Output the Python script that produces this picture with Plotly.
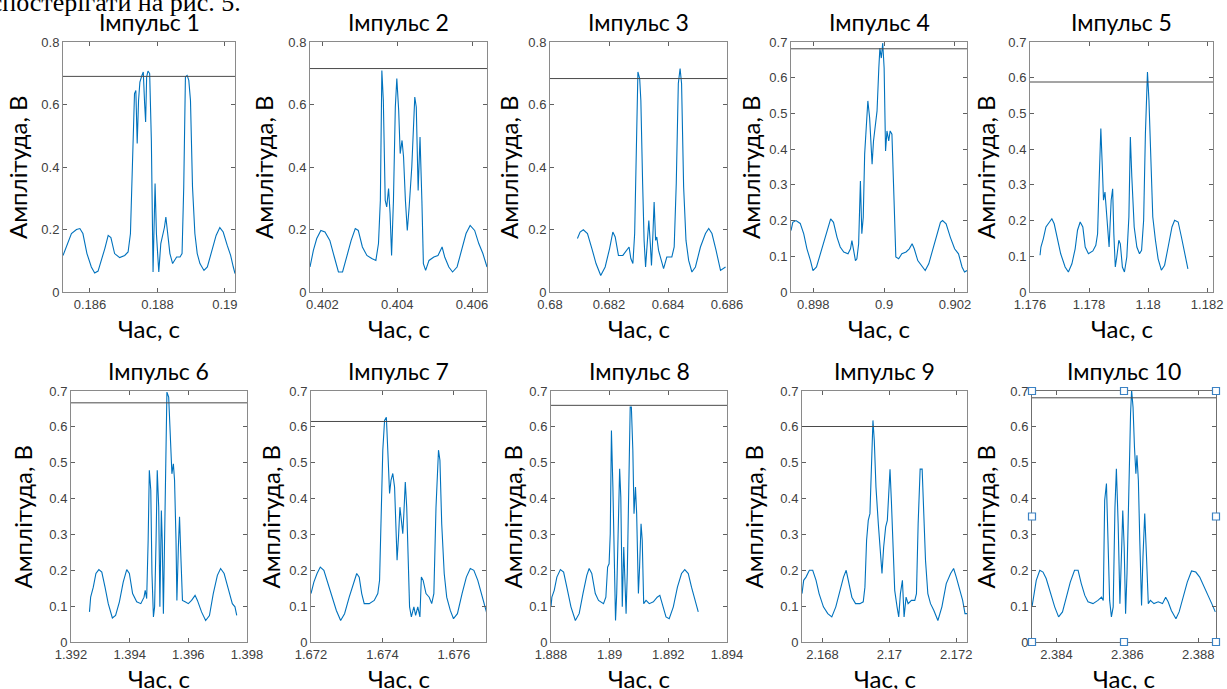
import plotly.graph_objects as go

W, H = 1227, 689

# ---------------- data ----------------
t1 = [0.18520, 0.18530, 0.18545, 0.18560, 0.18570, 0.18579, 0.18591, 0.18604, 0.18614, 0.18624,
      0.18634, 0.18644, 0.18654, 0.18662, 0.18673, 0.18688, 0.18703, 0.18713, 0.18720, 0.18726,
      0.18732, 0.18736, 0.18740, 0.18744, 0.18748, 0.18754, 0.18758, 0.18762, 0.18765, 0.18768,
      0.18772, 0.18777, 0.18782, 0.18787, 0.18793, 0.18797, 0.18804, 0.18810, 0.18815, 0.18821,
      0.18825, 0.18830, 0.18837, 0.18845, 0.18857, 0.18867, 0.18873, 0.18878, 0.18883, 0.18888,
      0.18893, 0.18898, 0.18904, 0.18911, 0.18918, 0.18926, 0.18938, 0.18948, 0.18961, 0.18974,
      0.18985, 0.18995, 0.19007, 0.19017, 0.19025, 0.19030]
a1 = [0.117, 0.144, 0.187, 0.200, 0.203, 0.187, 0.123, 0.080, 0.061, 0.067,
      0.101, 0.139, 0.181, 0.174, 0.123, 0.110, 0.117, 0.128, 0.187, 0.379,
      0.635, 0.645, 0.475, 0.613, 0.672, 0.693, 0.704, 0.603, 0.544, 0.688,
      0.707, 0.699, 0.485, 0.064, 0.347, 0.187, 0.064, 0.155, 0.176, 0.208,
      0.240, 0.187, 0.123, 0.091, 0.112, 0.112, 0.123, 0.336, 0.688, 0.693,
      0.677, 0.613, 0.336, 0.187, 0.123, 0.091, 0.069, 0.080, 0.133, 0.181,
      0.206, 0.192, 0.149, 0.117, 0.080, 0.059]

t2 = [0.40167, 0.40176, 0.40185, 0.40196, 0.40207, 0.40220, 0.40232, 0.40243, 0.40254, 0.40265,
      0.40277, 0.40288, 0.40296, 0.40307, 0.40319, 0.40332, 0.40343, 0.40350, 0.40355, 0.40359,
      0.40363, 0.40368, 0.40372, 0.40377, 0.40381, 0.40385, 0.40390, 0.40395, 0.40399, 0.40404,
      0.40408, 0.40413, 0.40417, 0.40422, 0.40427, 0.40432, 0.40439, 0.40447, 0.40451, 0.40456,
      0.40461, 0.40466, 0.40470, 0.40476, 0.40485, 0.40498, 0.40509, 0.40520, 0.40527, 0.40538,
      0.40548, 0.40560, 0.40571, 0.40584, 0.40595, 0.40607, 0.40618, 0.40629, 0.40640]
a2 = [0.080, 0.133, 0.171, 0.197, 0.192, 0.165, 0.112, 0.064, 0.064, 0.112,
      0.165, 0.203, 0.197, 0.144, 0.117, 0.107, 0.101, 0.155, 0.293, 0.709,
      0.613, 0.293, 0.272, 0.331, 0.251, 0.117, 0.293, 0.592, 0.683, 0.581,
      0.443, 0.485, 0.432, 0.293, 0.197, 0.272, 0.400, 0.624, 0.592, 0.325,
      0.496, 0.293, 0.091, 0.069, 0.101, 0.112, 0.117, 0.144, 0.112, 0.080,
      0.064, 0.080, 0.133, 0.187, 0.213, 0.197, 0.155, 0.123, 0.080]

t3 = [0.68093, 0.68102, 0.68113, 0.68127, 0.68142, 0.68156, 0.68172, 0.68187, 0.68202, 0.68213,
      0.68221, 0.68232, 0.68247, 0.68260, 0.68268, 0.68274, 0.68281, 0.68287, 0.68292, 0.68298,
      0.68304, 0.68308, 0.68314, 0.68319, 0.68324, 0.68330, 0.68335, 0.68340, 0.68344, 0.68349,
      0.68353, 0.68358, 0.68362, 0.68368, 0.68376, 0.68385, 0.68396, 0.68413, 0.68421, 0.68428,
      0.68435, 0.68441, 0.68446, 0.68453, 0.68461, 0.68470, 0.68481, 0.68493, 0.68510, 0.68527,
      0.68538, 0.68549, 0.68563, 0.68578, 0.68595]
a3 = [0.171, 0.192, 0.199, 0.187, 0.139, 0.091, 0.053, 0.080, 0.139, 0.192,
      0.176, 0.117, 0.117, 0.133, 0.144, 0.107, 0.091, 0.187, 0.453, 0.704,
      0.683, 0.613, 0.347, 0.165, 0.080, 0.165, 0.229, 0.155, 0.085, 0.187,
      0.288, 0.165, 0.176, 0.133, 0.101, 0.075, 0.112, 0.112, 0.144, 0.347,
      0.667, 0.715, 0.667, 0.336, 0.165, 0.101, 0.064, 0.080, 0.144, 0.187,
      0.203, 0.187, 0.133, 0.069, 0.080]

t4 = [0.89737, 0.89742, 0.89751, 0.89763, 0.89773, 0.89782, 0.89792, 0.89799, 0.89809, 0.89820,
      0.89832, 0.89843, 0.89849, 0.89857, 0.89867, 0.89876, 0.89886, 0.89898, 0.89905, 0.89909,
      0.89914, 0.89919, 0.89923, 0.89928, 0.89933, 0.89937, 0.89941, 0.89945, 0.89950, 0.89954,
      0.89959, 0.89963, 0.89966, 0.89970, 0.89975, 0.89980, 0.89985, 0.89988, 0.89992, 0.89996,
      0.90000, 0.90004, 0.90008, 0.90013, 0.90017, 0.90022, 0.90028, 0.90033, 0.90041, 0.90050,
      0.90062, 0.90071, 0.90079, 0.90085, 0.90095, 0.90107, 0.90116, 0.90126, 0.90137, 0.90149,
      0.90159, 0.90165, 0.90175, 0.90187, 0.90199, 0.90210, 0.90220, 0.90227, 0.90234]
a4 = [0.172, 0.195, 0.200, 0.192, 0.163, 0.121, 0.088, 0.060, 0.070, 0.107,
      0.153, 0.191, 0.205, 0.195, 0.153, 0.126, 0.112, 0.107, 0.121, 0.144,
      0.121, 0.088, 0.093, 0.135, 0.311, 0.163, 0.209, 0.386, 0.469, 0.535,
      0.488, 0.414, 0.358, 0.423, 0.469, 0.507, 0.627, 0.683, 0.655, 0.697,
      0.627, 0.395, 0.451, 0.423, 0.451, 0.442, 0.256, 0.098, 0.093, 0.107,
      0.112, 0.121, 0.135, 0.121, 0.088, 0.070, 0.060, 0.079, 0.116, 0.163,
      0.195, 0.200, 0.191, 0.153, 0.121, 0.107, 0.070, 0.056, 0.060]

t5 = [1.17634, 1.17637, 1.17645, 1.17654, 1.17666, 1.17674, 1.17682, 1.17693, 1.17704, 1.17719,
      1.17730, 1.17742, 1.17753, 1.17761, 1.17770, 1.17779, 1.17787, 1.17798, 1.17813, 1.17823,
      1.17829, 1.17834, 1.17840, 1.17845, 1.17849, 1.17854, 1.17858, 1.17863, 1.17868, 1.17875,
      1.17880, 1.17884, 1.17889, 1.17894, 1.17901, 1.17906, 1.17913, 1.17920, 1.17928, 1.17935,
      1.17940, 1.17945, 1.17953, 1.17962, 1.17971, 1.17978, 1.17985, 1.17991, 1.17998, 1.18003,
      1.18009, 1.18016, 1.18025, 1.18034, 1.18045, 1.18056, 1.18068, 1.18081, 1.18090, 1.18102,
      1.18113, 1.18124, 1.18135]
a5 = [0.103, 0.126, 0.149, 0.182, 0.196, 0.205, 0.191, 0.145, 0.107, 0.070,
      0.056, 0.079, 0.121, 0.173, 0.196, 0.182, 0.126, 0.107, 0.115, 0.131,
      0.163, 0.303, 0.458, 0.350, 0.257, 0.280, 0.238, 0.163, 0.126, 0.257,
      0.289, 0.163, 0.070, 0.098, 0.145, 0.135, 0.070, 0.056, 0.098, 0.210,
      0.434, 0.322, 0.182, 0.126, 0.107, 0.117, 0.201, 0.444, 0.616, 0.537,
      0.350, 0.210, 0.145, 0.093, 0.061, 0.075, 0.126, 0.182, 0.201, 0.196,
      0.154, 0.107, 0.065]

t6 = [1.39263, 1.39267, 1.39276, 1.39285, 1.39295, 1.39305, 1.39316, 1.39327, 1.39341, 1.39352,
      1.39365, 1.39378, 1.39390, 1.39399, 1.39410, 1.39424, 1.39438, 1.39449, 1.39453, 1.39458,
      1.39463, 1.39467, 1.39472, 1.39476, 1.39481, 1.39485, 1.39490, 1.39494, 1.39499, 1.39503,
      1.39508, 1.39511, 1.39515, 1.39519, 1.39523, 1.39527, 1.39533, 1.39539, 1.39544, 1.39549,
      1.39553, 1.39558, 1.39561, 1.39566, 1.39570, 1.39575, 1.39580, 1.39589, 1.39600, 1.39611,
      1.39623, 1.39631, 1.39645, 1.39659, 1.39672, 1.39685, 1.39699, 1.39710, 1.39722, 1.39736,
      1.39750, 1.39759, 1.39765]
a6 = [0.084, 0.125, 0.153, 0.191, 0.202, 0.195, 0.153, 0.107, 0.067, 0.074,
      0.112, 0.167, 0.202, 0.191, 0.135, 0.112, 0.107, 0.125, 0.144, 0.121,
      0.284, 0.479, 0.423, 0.191, 0.070, 0.098, 0.284, 0.479, 0.376, 0.098,
      0.367, 0.284, 0.079, 0.265, 0.507, 0.697, 0.683, 0.581, 0.469, 0.497,
      0.451, 0.284, 0.116, 0.265, 0.349, 0.228, 0.116, 0.112, 0.107, 0.116,
      0.130, 0.116, 0.084, 0.060, 0.074, 0.135, 0.186, 0.205, 0.191, 0.149,
      0.107, 0.098, 0.074]

t7 = [1.67200, 1.67208, 1.67217, 1.67226, 1.67236, 1.67245, 1.67258, 1.67271, 1.67283, 1.67294,
      1.67307, 1.67318, 1.67328, 1.67335, 1.67342, 1.67349, 1.67363, 1.67377, 1.67387, 1.67392,
      1.67396, 1.67401, 1.67406, 1.67411, 1.67415, 1.67420, 1.67424, 1.67429, 1.67434, 1.67437,
      1.67441, 1.67445, 1.67449, 1.67453, 1.67457, 1.67460, 1.67464, 1.67468, 1.67472, 1.67476,
      1.67481, 1.67488, 1.67493, 1.67499, 1.67505, 1.67509, 1.67514, 1.67522, 1.67531, 1.67538,
      1.67544, 1.67550, 1.67557, 1.67561, 1.67566, 1.67573, 1.67580, 1.67590, 1.67599, 1.67610,
      1.67623, 1.67635, 1.67646, 1.67656, 1.67667, 1.67679, 1.67689, 1.67695]
a7 = [0.135, 0.167, 0.191, 0.209, 0.200, 0.172, 0.125, 0.088, 0.060, 0.079,
      0.125, 0.163, 0.191, 0.181, 0.135, 0.107, 0.107, 0.116, 0.135, 0.172,
      0.321, 0.535, 0.618, 0.627, 0.535, 0.414, 0.451, 0.470, 0.432, 0.311,
      0.228, 0.293, 0.376, 0.340, 0.302, 0.358, 0.446, 0.376, 0.265, 0.098,
      0.070, 0.098, 0.074, 0.098, 0.070, 0.181, 0.172, 0.135, 0.125, 0.107,
      0.135, 0.376, 0.535, 0.507, 0.330, 0.191, 0.125, 0.088, 0.065, 0.079,
      0.135, 0.181, 0.205, 0.200, 0.172, 0.125, 0.088, 0.070]

t8 = [1.88800, 1.88803, 1.88811, 1.88820, 1.88832, 1.88843, 1.88854, 1.88868, 1.88883, 1.88896,
      1.88909, 1.88922, 1.88930, 1.88939, 1.88951, 1.88962, 1.88979, 1.88987, 1.88993, 1.88998,
      1.89002, 1.89006, 1.89011, 1.89015, 1.89020, 1.89024, 1.89030, 1.89034, 1.89038, 1.89043,
      1.89048, 1.89051, 1.89056, 1.89060, 1.89065, 1.89070, 1.89074, 1.89079, 1.89083, 1.89088,
      1.89092, 1.89098, 1.89102, 1.89107, 1.89111, 1.89116, 1.89124, 1.89135, 1.89149, 1.89162,
      1.89171, 1.89181, 1.89192, 1.89203, 1.89217, 1.89231, 1.89245, 1.89256, 1.89268, 1.89279,
      1.89290, 1.89296, 1.89302]
a8 = [0.098, 0.125, 0.144, 0.181, 0.202, 0.195, 0.153, 0.098, 0.060, 0.079,
      0.135, 0.186, 0.205, 0.191, 0.135, 0.116, 0.107, 0.125, 0.209, 0.218,
      0.302, 0.590, 0.432, 0.237, 0.060, 0.135, 0.376, 0.483, 0.404, 0.098,
      0.265, 0.191, 0.079, 0.191, 0.451, 0.655, 0.655, 0.535, 0.358, 0.432,
      0.358, 0.135, 0.209, 0.330, 0.284, 0.107, 0.116, 0.107, 0.112, 0.125,
      0.130, 0.098, 0.070, 0.065, 0.098, 0.153, 0.191, 0.202, 0.191, 0.153,
      0.121, 0.098, 0.084]

t9 = [2.16739, 2.16744, 2.16751, 2.16761, 2.16771, 2.16781, 2.16790, 2.16803, 2.16816, 2.16828,
      2.16840, 2.16853, 2.16863, 2.16871, 2.16878, 2.16888, 2.16899, 2.16912, 2.16922, 2.16927,
      2.16932, 2.16937, 2.16942, 2.16947, 2.16951, 2.16955, 2.16960, 2.16967, 2.16974, 2.16978,
      2.16983, 2.16989, 2.16994, 2.16998, 2.17002, 2.17006, 2.17011, 2.17016, 2.17023, 2.17028,
      2.17033, 2.17039, 2.17044, 2.17050, 2.17056, 2.17066, 2.17076, 2.17081, 2.17086, 2.17092,
      2.17098, 2.17103, 2.17108, 2.17115, 2.17123, 2.17133, 2.17145, 2.17157, 2.17170, 2.17183,
      2.17192, 2.17200, 2.17209, 2.17219, 2.17226, 2.17232]
a9 = [0.135, 0.172, 0.181, 0.200, 0.200, 0.172, 0.135, 0.098, 0.079, 0.070,
      0.098, 0.149, 0.181, 0.200, 0.172, 0.125, 0.107, 0.107, 0.112, 0.153,
      0.284, 0.339, 0.358, 0.516, 0.618, 0.562, 0.432, 0.330, 0.246, 0.191,
      0.265, 0.321, 0.339, 0.414, 0.482, 0.395, 0.237, 0.144, 0.098, 0.070,
      0.135, 0.172, 0.070, 0.125, 0.107, 0.116, 0.116, 0.135, 0.330, 0.482,
      0.482, 0.376, 0.228, 0.135, 0.107, 0.088, 0.060, 0.098, 0.163, 0.191,
      0.205, 0.181, 0.153, 0.116, 0.079, 0.079]

t10 = [2.38331, 2.38337, 2.38343, 2.38353, 2.38362, 2.38371, 2.38383, 2.38395, 2.38406, 2.38417,
       2.38428, 2.38439, 2.38451, 2.38461, 2.38470, 2.38480, 2.38489, 2.38503, 2.38517, 2.38527,
       2.38532, 2.38536, 2.38541, 2.38546, 2.38550, 2.38555, 2.38560, 2.38565, 2.38569, 2.38574,
       2.38579, 2.38584, 2.38587, 2.38591, 2.38595, 2.38599, 2.38604, 2.38609, 2.38612, 2.38616,
       2.38620, 2.38624, 2.38627, 2.38631, 2.38635, 2.38640, 2.38644, 2.38649, 2.38654, 2.38659,
       2.38665, 2.38675, 2.38687, 2.38699, 2.38708, 2.38715, 2.38724, 2.38737, 2.38746, 2.38757,
       2.38769, 2.38781, 2.38793, 2.38804, 2.38816, 2.38828, 2.38838, 2.38848]
a10 = [0.098, 0.135, 0.172, 0.200, 0.195, 0.177, 0.135, 0.098, 0.070, 0.084,
       0.125, 0.167, 0.200, 0.200, 0.163, 0.130, 0.112, 0.107, 0.116, 0.125,
       0.116, 0.395, 0.442, 0.284, 0.116, 0.070, 0.098, 0.376, 0.483, 0.330,
       0.107, 0.265, 0.367, 0.265, 0.079, 0.191, 0.469, 0.637, 0.702, 0.655,
       0.544, 0.469, 0.521, 0.451, 0.284, 0.102, 0.237, 0.358, 0.237, 0.107,
       0.116, 0.107, 0.112, 0.107, 0.125, 0.112, 0.088, 0.065, 0.084, 0.125,
       0.167, 0.198, 0.195, 0.181, 0.153, 0.125, 0.107, 0.084]

thresholds = [0.690, 0.715, 0.683, 0.681, 0.588, 0.667, 0.615, 0.660, 0.601, 0.681]
titles = ["Імпульс 1", "Імпульс 2", "Імпульс 3", "Імпульс 4", "Імпульс 5",
          "Імпульс 6", "Імпульс 7", "Імпульс 8", "Імпульс 9", "Імпульс 10"]
x_ranges = [[0.1852, 0.1903], [0.40167, 0.4064], [0.680, 0.686], [0.89737, 0.90234],
            [1.176, 1.1822], [1.392, 1.398], [1.672, 1.6769], [1.888, 1.894],
            [2.16739, 2.17232], [2.38331, 2.3885]]
x_tickvals = [[0.186, 0.188, 0.19], [0.402, 0.404, 0.406], [0.68, 0.682, 0.684, 0.686],
              [0.898, 0.9, 0.902], [1.176, 1.178, 1.18, 1.182], [1.392, 1.394, 1.396, 1.398],
              [1.672, 1.674, 1.676], [1.888, 1.89, 1.892, 1.894], [2.168, 2.17, 2.172],
              [2.384, 2.386, 2.388]]
x_ticktext = [["0.186", "0.188", "0.19"], ["0.402", "0.404", "0.406"],
              ["0.68", "0.682", "0.684", "0.686"], ["0.898", "0.9", "0.902"],
              ["1.176", "1.178", "1.18", "1.182"], ["1.392", "1.394", "1.396", "1.398"],
              ["1.672", "1.674", "1.676"], ["1.888", "1.89", "1.892", "1.894"],
              ["2.168", "2.17", "2.172"], ["2.384", "2.386", "2.388"]]
y_ticks_08 = [0, 0.2, 0.4, 0.6, 0.8]
y_text_08 = ["0", "0.2", "0.4", "0.6", "0.8"]
y_ticks_07 = [0, 0.1, 0.2, 0.3, 0.4, 0.5, 0.6, 0.7]
y_text_07 = ["0", "0.1", "0.2", "0.3", "0.4", "0.5", "0.6", "0.7"]
y_label = "Амплітуда, В"
x_label = "Час, с"
top_text = "можна спостерігати на рис. 5."

times = [t1, t2, t3, t4, t5, t6, t7, t8, t9, t10]
amps = [a1, a2, a3, a4, a5, a6, a7, a8, a9, a10]

# ---------------- layout (pixel boxes: left, top, right, bottom) ----------------
boxes = [(63, 42, 235, 292), (310, 42, 487, 292), (550, 42, 727, 292),
         (791, 42, 967, 292), (1030, 42, 1213, 292),
         (71, 391, 247, 642), (311, 391, 486, 642), (551, 391, 727, 642),
         (802, 391, 967, 642), (1032, 391, 1216, 642)]
ytitle_off = [46, 47, 42, 41, 45, 49, 41, 39, 49, 47]

LINE = "#0072BD"
TICKFONT = dict(family="Liberation Sans, Arial, sans-serif", size=13, color="#404040")
TXTFONT = "Lato, Carlito, Calibri, sans-serif"

fig = go.Figure()
layout = dict(width=W, height=H, margin=dict(l=0, r=0, t=0, b=0, autoexpand=False),
              paper_bgcolor="white", plot_bgcolor="white", showlegend=False)
annotations = []
shapes = []

for i in range(10):
    n = i + 1
    sx = "" if n == 1 else str(n)
    l, t, r, b = boxes[i]
    xdom = [l / W, r / W]
    ydom = [1 - b / H, 1 - t / H]
    tall = i < 3
    fig.add_trace(go.Scatter(x=times[i], y=amps[i], mode="lines",
                             line=dict(color=LINE, width=1.1),
                             xaxis="x" + sx, yaxis="y" + sx, hoverinfo="skip"))
    frame = "#8a8a8a" if n != 10 else "#6f6f6f"
    layout["xaxis" + sx] = dict(domain=xdom, anchor="y" + sx, range=x_ranges[i],
                                tickvals=x_tickvals[i], ticktext=x_ticktext[i],
                                ticks="inside", ticklen=4, tickcolor="#606060",
                                showline=True, linecolor=frame, linewidth=1, mirror="ticks",
                                showgrid=False, zeroline=False, tickfont=TICKFONT,
                                automargin=False)
    layout["yaxis" + sx] = dict(domain=ydom, anchor="x" + sx,
                                range=[0, 0.8] if tall else [0, 0.7],
                                tickvals=y_ticks_08 if tall else y_ticks_07,
                                ticktext=y_text_08 if tall else y_text_07,
                                ticks="inside", ticklen=4, tickcolor="#606060",
                                showline=True, linecolor=frame, linewidth=1, mirror="ticks",
                                showgrid=False, zeroline=False, tickfont=TICKFONT,
                                automargin=False)
    # threshold line
    shapes.append(dict(type="line", xref="x" + sx + " domain", yref="y" + sx,
                       x0=0, x1=1, y0=thresholds[i], y1=thresholds[i],
                       line=dict(color="#4a4a4a", width=1)))
    cx = (l + r) / 2 / W
    # title
    annotations.append(dict(text=titles[i], x=cx, y=1 - (t - 20) / H, xref="paper", yref="paper",
                            xanchor="center", yanchor="middle", showarrow=False,
                            font=dict(family=TXTFONT, size=23, color="black")))
    # x label
    annotations.append(dict(text=x_label, x=cx, y=1 - (b + 36) / H, xref="paper", yref="paper",
                            xanchor="center", yanchor="middle", showarrow=False,
                            font=dict(family=TXTFONT, size=24, color="black")))
    # y label
    annotations.append(dict(text=y_label, x=(l - ytitle_off[i]) / W, y=1 - (t + b) / 2 / H,
                            xref="paper", yref="paper", xanchor="center", yanchor="middle",
                            textangle=-90, showarrow=False,
                            font=dict(family=TXTFONT, size=24, color="black")))

# selection handles on panel 10
hw, hh = 3.5 / 184, 3.5 / 251
for hx in (0, 0.5, 1):
    for hy in (0, 0.5, 1):
        if hx == 0.5 and hy == 0.5:
            continue
        shapes.append(dict(type="rect", xref="x10 domain", yref="y10 domain",
                           x0=hx - hw, x1=hx + hw, y0=hy - hh, y1=hy + hh,
                           fillcolor="white", line=dict(color="#3b82c4", width=1.2)))

# clipped text line at top of page
annotations.append(dict(text=top_text, x=243 / W, y=1 - 2 / H,
                        xref="paper", yref="paper", xanchor="right", yanchor="middle",
                        showarrow=False,
                        font=dict(family="Liberation Serif, Times New Roman, serif",
                                  size=26, color="black")))

layout["annotations"] = annotations
layout["shapes"] = shapes
fig.update_layout(**layout)
fig.write_html("out.html", config={"displayModeBar": False},
               post_script="document.body.style.margin='0';document.body.style.padding='0';"
                           "document.body.style.overflow='hidden';")
